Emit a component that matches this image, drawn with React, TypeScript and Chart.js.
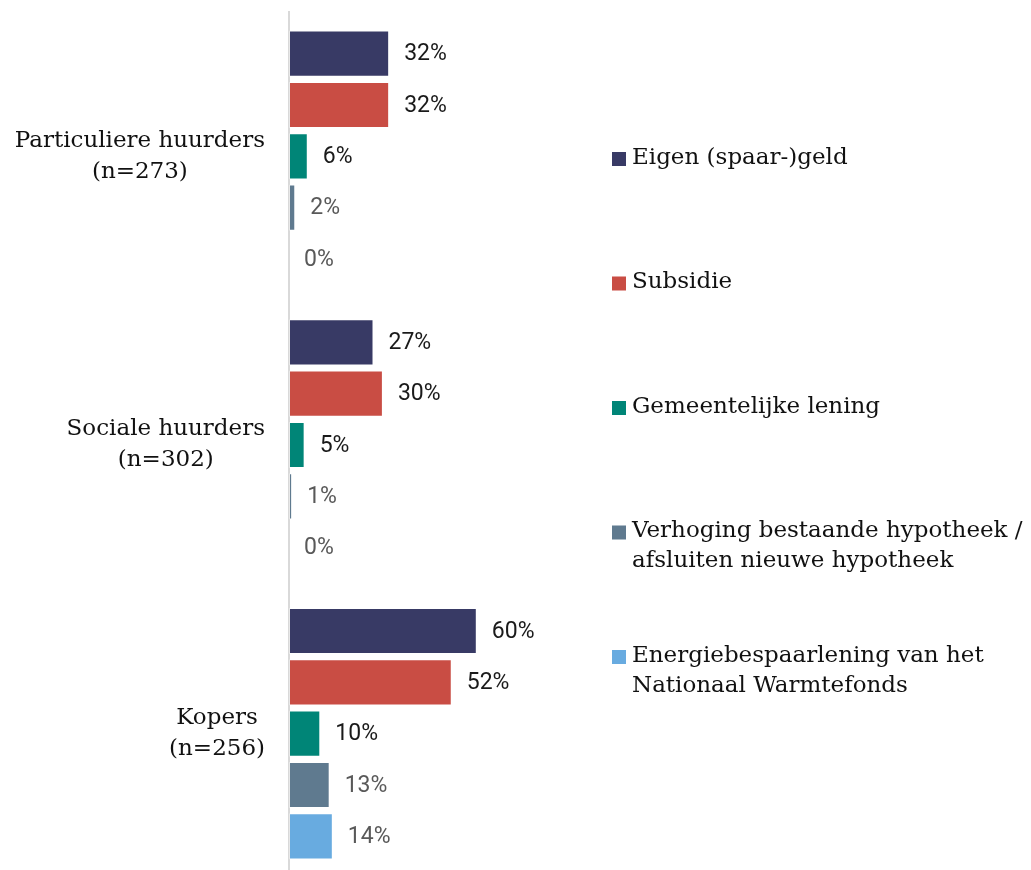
import React, { useEffect, useRef } from "react";
import { Chart, registerables } from "chart.js";

Chart.register(...registerables);

const categories: string[][] = [
  ["Particuliere huurders", "(n=273)"],
  ["Sociale huurders", "(n=302)"],
  ["Kopers", "(n=256)"],
];

const seriesNames: string[][] = [
  ["Eigen (spaar-)geld"],
  ["Subsidie"],
  ["Gemeentelijke lening"],
  ["Verhoging bestaande hypotheek /", "afsluiten nieuwe hypotheek"],
  ["Energiebespaarlening van het", "Nationaal Warmtefonds"],
];

const eigenGeld = [32, 27, 60];
const subsidie = [32, 30, 52];
const gemeentelijkeLening = [6, 5, 10];
const verhogingHypotheek = [2, 1, 13];
const energiebespaarlening = [0, 0, 14];

const seriesValues = [eigenGeld, subsidie, gemeentelijkeLening, verhogingHypotheek, energiebespaarlening];
const seriesColors = ["#383a65", "#c94d44", "#008577", "#5f7a8f", "#68abe0"];
const labelColors = ["#1a1a1a", "#1a1a1a", "#1a1a1a", "#595959", "#595959"];

const SERIF = '"DejaVu Serif", serif';
const SANS = 'Roboto, "Noto Sans", sans-serif';

const labelsPlugin = {
  id: "customLabels",
  afterDatasetsDraw(chart: any) {
    const ctx = chart.ctx;
    ctx.save();
    // value labels
    ctx.font = `23px ${SANS}`;
    ctx.textAlign = "left";
    ctx.textBaseline = "middle";
    chart.data.datasets.forEach((ds: any, di: number) => {
      const meta = chart.getDatasetMeta(di);
      meta.data.forEach((bar: any, i: number) => {
        ctx.fillStyle = labelColors[di];
        ctx.fillText(`${ds.data[i]}%`, bar.x + 15, bar.y + 1);
      });
    });
    // category labels
    const yScale = chart.scales.y;
    const area = chart.chartArea;
    ctx.font = `23px ${SERIF}`;
    ctx.fillStyle = "#111111";
    ctx.textAlign = "center";
    const lh = 31;
    categories.forEach((lines, i) => {
      const y = yScale.getPixelForValue(i);
      const w = Math.max(...lines.map((l) => ctx.measureText(l).width));
      const cx = area.left - 24 - w / 2;
      lines.forEach((l, j) => {
        ctx.fillText(l, cx, y + (j - (lines.length - 1) / 2) * lh);
      });
    });
    // legend
    ctx.textAlign = "left";
    const lx = area.right + 10;
    seriesNames.forEach((lines, k) => {
      const y0 = 158 + k * 124.5;
      ctx.fillStyle = seriesColors[k];
      ctx.fillRect(lx, y0 - 6, 14, 14);
      ctx.fillStyle = "#111111";
      lines.forEach((l, j) => {
        ctx.fillText(l, lx + 20, y0 + j * 30);
      });
    });
    ctx.restore();
  },
};

export default function App() {
  const ref = useRef<HTMLCanvasElement | null>(null);
  useEffect(() => {
    if (!ref.current) return;
    const chart = new Chart(ref.current, {
      type: "bar",
      data: {
        labels: categories.map((c) => c.join(" ")),
        datasets: seriesValues.map((vals, k) => ({
          label: seriesNames[k].join(" "),
          data: vals,
          backgroundColor: seriesColors[k],
          borderColor: "rgba(255,255,255,0.4)",
          borderWidth: 1,
          borderSkipped: false,
          barPercentage: 0.9,
          categoryPercentage: 0.889,
        })),
      },
      options: {
        indexAxis: "y",
        responsive: false,
        animation: false,
        devicePixelRatio: 1,
        layout: { padding: { left: 289, right: 429, top: 12, bottom: 0 } },
        plugins: { legend: { display: false }, tooltip: { enabled: false } },
        scales: {
          x: { display: false, min: 0, max: 100 },
          y: {
            display: true,
            ticks: { display: false },
            grid: { display: false, drawTicks: false },
            border: { display: true, color: "#d9d9d9", width: 2 },
          },
        },
      },
      plugins: [labelsPlugin],
    });
    return () => chart.destroy();
  }, []);
  return (
    <div style={{ position: "fixed", left: 0, top: 0, width: 1031, height: 870, overflow: "hidden", background: "#fff" }}>
      <canvas ref={ref} width={1031} height={878} style={{ display: "block" }} />
    </div>
  );
}
